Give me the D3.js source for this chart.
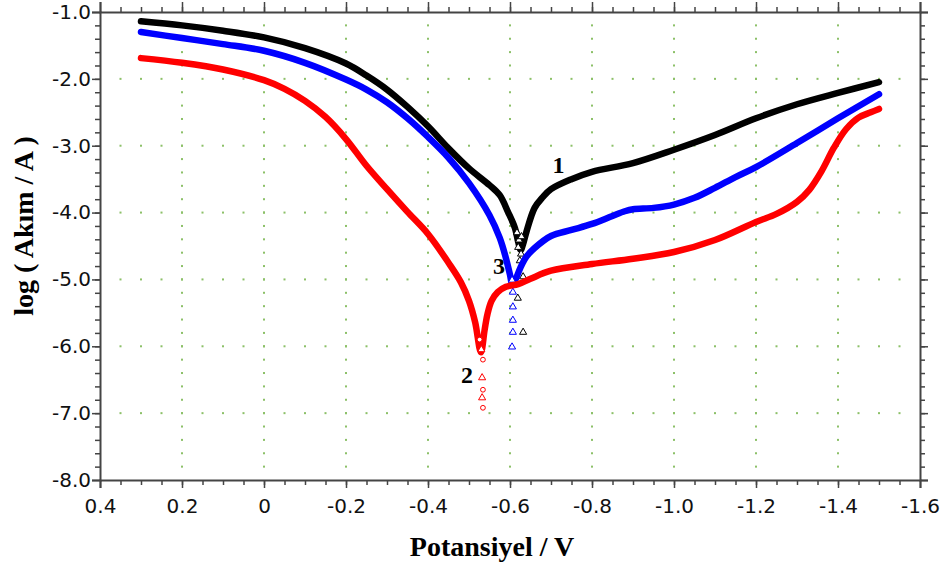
<!DOCTYPE html>
<html><head><meta charset="utf-8">
<script src="https://cdn.jsdelivr.net/npm/d3@7"></script>
<style>body{margin:0;background:#fff}svg{display:block}</style>
</head><body><svg id="c" width="941" height="569"></svg>
<script>
// ---------- data ----------
const xTicks = [0.4, 0.2, 0, -0.2, -0.4, -0.6, -0.8, -1.0, -1.2, -1.4, -1.6];
const xTickLabels = ["0.4", "0.2", "0", "-0.2", "-0.4", "-0.6", "-0.8", "-1.0", "-1.2", "-1.4", "-1.6"];
const yTicks = [-1, -2, -3, -4, -5, -6, -7, -8];
const yTickLabels = ["-1.0", "-2.0", "-3.0", "-4.0", "-5.0", "-6.0", "-7.0", "-8.0"];

// Curve 1 (black)
const pot1 = [0.3, 0.2, 0.1, 0.0, -0.1, -0.2, -0.25, -0.3, -0.35, -0.4, -0.45, -0.5, -0.55, -0.575, -0.595, -0.612, -0.62, -0.626, -0.632, -0.64, -0.66, -0.68, -0.7, -0.75, -0.8, -0.9, -1.0, -1.1, -1.2, -1.3, -1.4, -1.5];
const log1 = [-1.14, -1.20, -1.28, -1.38, -1.54, -1.77, -1.95, -2.16, -2.42, -2.71, -3.04, -3.34, -3.59, -3.74, -3.99, -4.23, -4.44, -4.56, -4.47, -4.29, -3.93, -3.77, -3.65, -3.50, -3.39, -3.26, -3.06, -2.84, -2.59, -2.38, -2.21, -2.05];
const mark1E = [-0.617, -0.622, -0.628, -0.620, -0.627, -0.624, -0.632, -0.619, -0.632];
const mark1L = [-4.30, -4.41, -4.36, -4.52, -4.62, -4.72, -4.96, -5.28, -5.79];

// Curve 3 (blue)
const pot3 = [0.3, 0.2, 0.1, 0.0, -0.1, -0.2, -0.25, -0.3, -0.35, -0.4, -0.45, -0.5, -0.55, -0.575, -0.59, -0.6, -0.606, -0.615, -0.625, -0.64, -0.66, -0.7, -0.75, -0.8, -0.85, -0.88, -0.9, -0.95, -1.0, -1.05, -1.1, -1.15, -1.2, -1.3, -1.4, -1.5];
const log3 = [-1.30, -1.39, -1.48, -1.58, -1.76, -2.01, -2.16, -2.35, -2.59, -2.87, -3.18, -3.56, -4.04, -4.38, -4.68, -4.93, -5.08, -4.98, -4.83, -4.66, -4.53, -4.35, -4.26, -4.17, -4.05, -3.98, -3.95, -3.93, -3.88, -3.78, -3.63, -3.47, -3.32, -2.96, -2.59, -2.23];
const mark3E = [-0.605, -0.607, -0.607, -0.607, -0.607, -0.605];
const mark3L = [-5.01, -5.19, -5.41, -5.61, -5.79, -6.01];

// Curve 2 (red)
const pot2 = [0.3, 0.2, 0.1, 0.0, -0.05, -0.1, -0.15, -0.2, -0.25, -0.3, -0.35, -0.4, -0.45, -0.48, -0.5, -0.515, -0.529, -0.538, -0.545, -0.555, -0.57, -0.59, -0.62, -0.65, -0.7, -0.8, -0.9, -1.0, -1.1, -1.2, -1.25, -1.3, -1.33, -1.36, -1.39, -1.42, -1.45, -1.48, -1.5];
const log2 = [-1.69, -1.76, -1.86, -2.02, -2.15, -2.33, -2.57, -2.90, -3.30, -3.65, -3.99, -4.32, -4.75, -5.04, -5.32, -5.64, -6.09, -5.76, -5.52, -5.32, -5.19, -5.11, -5.07, -4.99, -4.87, -4.77, -4.69, -4.59, -4.41, -4.14, -4.02, -3.84, -3.66, -3.38, -3.03, -2.75, -2.58, -2.50, -2.45];
const mark2E = [-0.526, -0.530, -0.534, -0.532, -0.534, -0.532, -0.534];
const mark2L = [-5.90, -6.05, -6.20, -6.47, -6.65, -6.77, -6.92];

const curveLabels = ["1", "3", "2"];
const labelE = [-0.718, -0.573, -0.495];
const labelL = [-3.33, -4.84, -6.46];

// ---------- drawing ----------
const svg = d3.select("#c");
const x = d3.scaleLinear().domain([0.4, -1.6]).range([100, 920]);
const y = d3.scaleLinear().domain([-8, -1]).range([480, 12]);
const gridColor = "#8cc068";

// grid dots
const g = svg.append("g");
const minorX = d3.range(0.35, -1.56, -0.05).map(v => +v.toFixed(2));
const minorY = d3.range(-1.2, -7.9, -0.2).map(v => +v.toFixed(1));
const innerMajX = xTicks.slice(1, -1);
const innerMajY = yTicks.slice(1, -1);
innerMajY.forEach(v => {
  minorX.forEach(u => g.append("rect").attr("x", x(u) - 1).attr("y", y(v) - 1).attr("width", 2).attr("height", 2).attr("fill", gridColor));
});
innerMajX.forEach(u => {
  minorY.forEach(v => g.append("rect").attr("x", x(u) - 1).attr("y", y(v) - 1).attr("width", 2).attr("height", 2).attr("fill", gridColor));
});

// axes
const frame = "#444";
const axB = d3.axisBottom(x).tickValues(xTicks).tickFormat((d, i) => xTickLabels[i]).tickSize(8).tickPadding(11);
const axL = d3.axisLeft(y).tickValues(yTicks).tickFormat((d, i) => yTickLabels[i]).tickSize(8).tickPadding(1);
const minorXT = d3.range(0.35, -1.6, -0.05).map(v => +v.toFixed(2));
const minorYT = d3.range(-1.2, -8, -0.2).map(v => +v.toFixed(1));

function styleAxis(sel) {
  sel.select(".domain").attr("stroke", frame).attr("stroke-width", 2);
  sel.selectAll(".tick line").attr("stroke", frame).attr("stroke-width", 1.5);
  sel.selectAll(".tick text").attr("fill", "#111").style("font-family", "'DejaVu Sans', sans-serif").style("font-size", "20px");
}
svg.append("g").attr("transform", "translate(0,480)").call(axB).call(styleAxis);
svg.append("g").attr("transform", "translate(100,0)").call(axL).call(styleAxis);
svg.append("g").attr("transform", "translate(0,12)").call(d3.axisTop(x).tickValues(xTicks).tickFormat("").tickSize(10)).call(styleAxis);
svg.append("g").attr("transform", "translate(920,0)").call(d3.axisRight(y).tickValues(yTicks).tickFormat("").tickSize(8)).call(styleAxis);
// minor ticks
svg.append("g").attr("transform", "translate(0,480)").call(d3.axisBottom(x).tickValues(minorXT).tickFormat("").tickSize(5)).call(styleAxis).select(".domain").remove();
svg.append("g").attr("transform", "translate(0,12)").call(d3.axisTop(x).tickValues(minorXT).tickFormat("").tickSize(5)).call(styleAxis).select(".domain").remove();
svg.append("g").attr("transform", "translate(100,0)").call(d3.axisLeft(y).tickValues(minorYT).tickFormat("").tickSize(5)).call(styleAxis).select(".domain").remove();
svg.append("g").attr("transform", "translate(920,0)").call(d3.axisRight(y).tickValues(minorYT).tickFormat("").tickSize(5)).call(styleAxis).select(".domain").remove();

// curves
const line = d3.line().x(d => x(d[0])).y(d => y(d[1])).curve(d3.curveCatmullRom.alpha(0.5));
const series = [
  {E: pot1, L: log1, mE: mark1E, mL: mark1L, color: "#000000"},
  {E: pot3, L: log3, mE: mark3E, mL: mark3L, color: "#0000ff"},
  {E: pot2, L: log2, mE: mark2E, mL: mark2L, color: "#ff0000"}
];
const tri = d3.symbol().type(d3.symbolTriangle).size(22);
const circ = d3.symbol().type(d3.symbolCircle).size(18);
series.forEach((s, si) => {
  const pts = s.E.map((e, i) => [e, s.L[i]]);
  svg.append("path").attr("d", line(pts)).attr("fill", "none").attr("stroke", s.color)
    .attr("stroke-width", 6.5).attr("stroke-linecap", "round").attr("stroke-linejoin", "round");
  s.mE.forEach((e, i) => {
    const sym = (si === 2 && i % 2 === 0) ? circ : tri;
    svg.append("path").attr("d", sym()).attr("transform", `translate(${x(e)},${y(s.mL[i])})`)
      .attr("fill", "#fff").attr("stroke", s.color).attr("stroke-width", 1);
  });
});

// curve labels
curveLabels.forEach((t, i) => {
  svg.append("text").attr("x", x(labelE[i])).attr("y", y(labelL[i])).attr("text-anchor", "middle")
    .attr("dominant-baseline", "middle")
    .style("font-family", "'Liberation Serif', 'Times New Roman', serif").style("font-weight", "bold").style("font-size", "24px")
    .text(t);
});

// axis titles
svg.append("text").attr("x", 492).attr("y", 556).attr("text-anchor", "middle")
  .style("font-family", "'Liberation Serif', 'Times New Roman', serif").style("font-weight", "bold").style("font-size", "28px")
  .text("Potansiyel / V");
svg.append("text").attr("transform", "translate(33,226) rotate(-90)").attr("text-anchor", "middle")
  .style("font-family", "'Liberation Serif', 'Times New Roman', serif").style("font-weight", "bold").style("font-size", "28px")
  .text("log ( Akım / A )");
</script>
</body></html>
